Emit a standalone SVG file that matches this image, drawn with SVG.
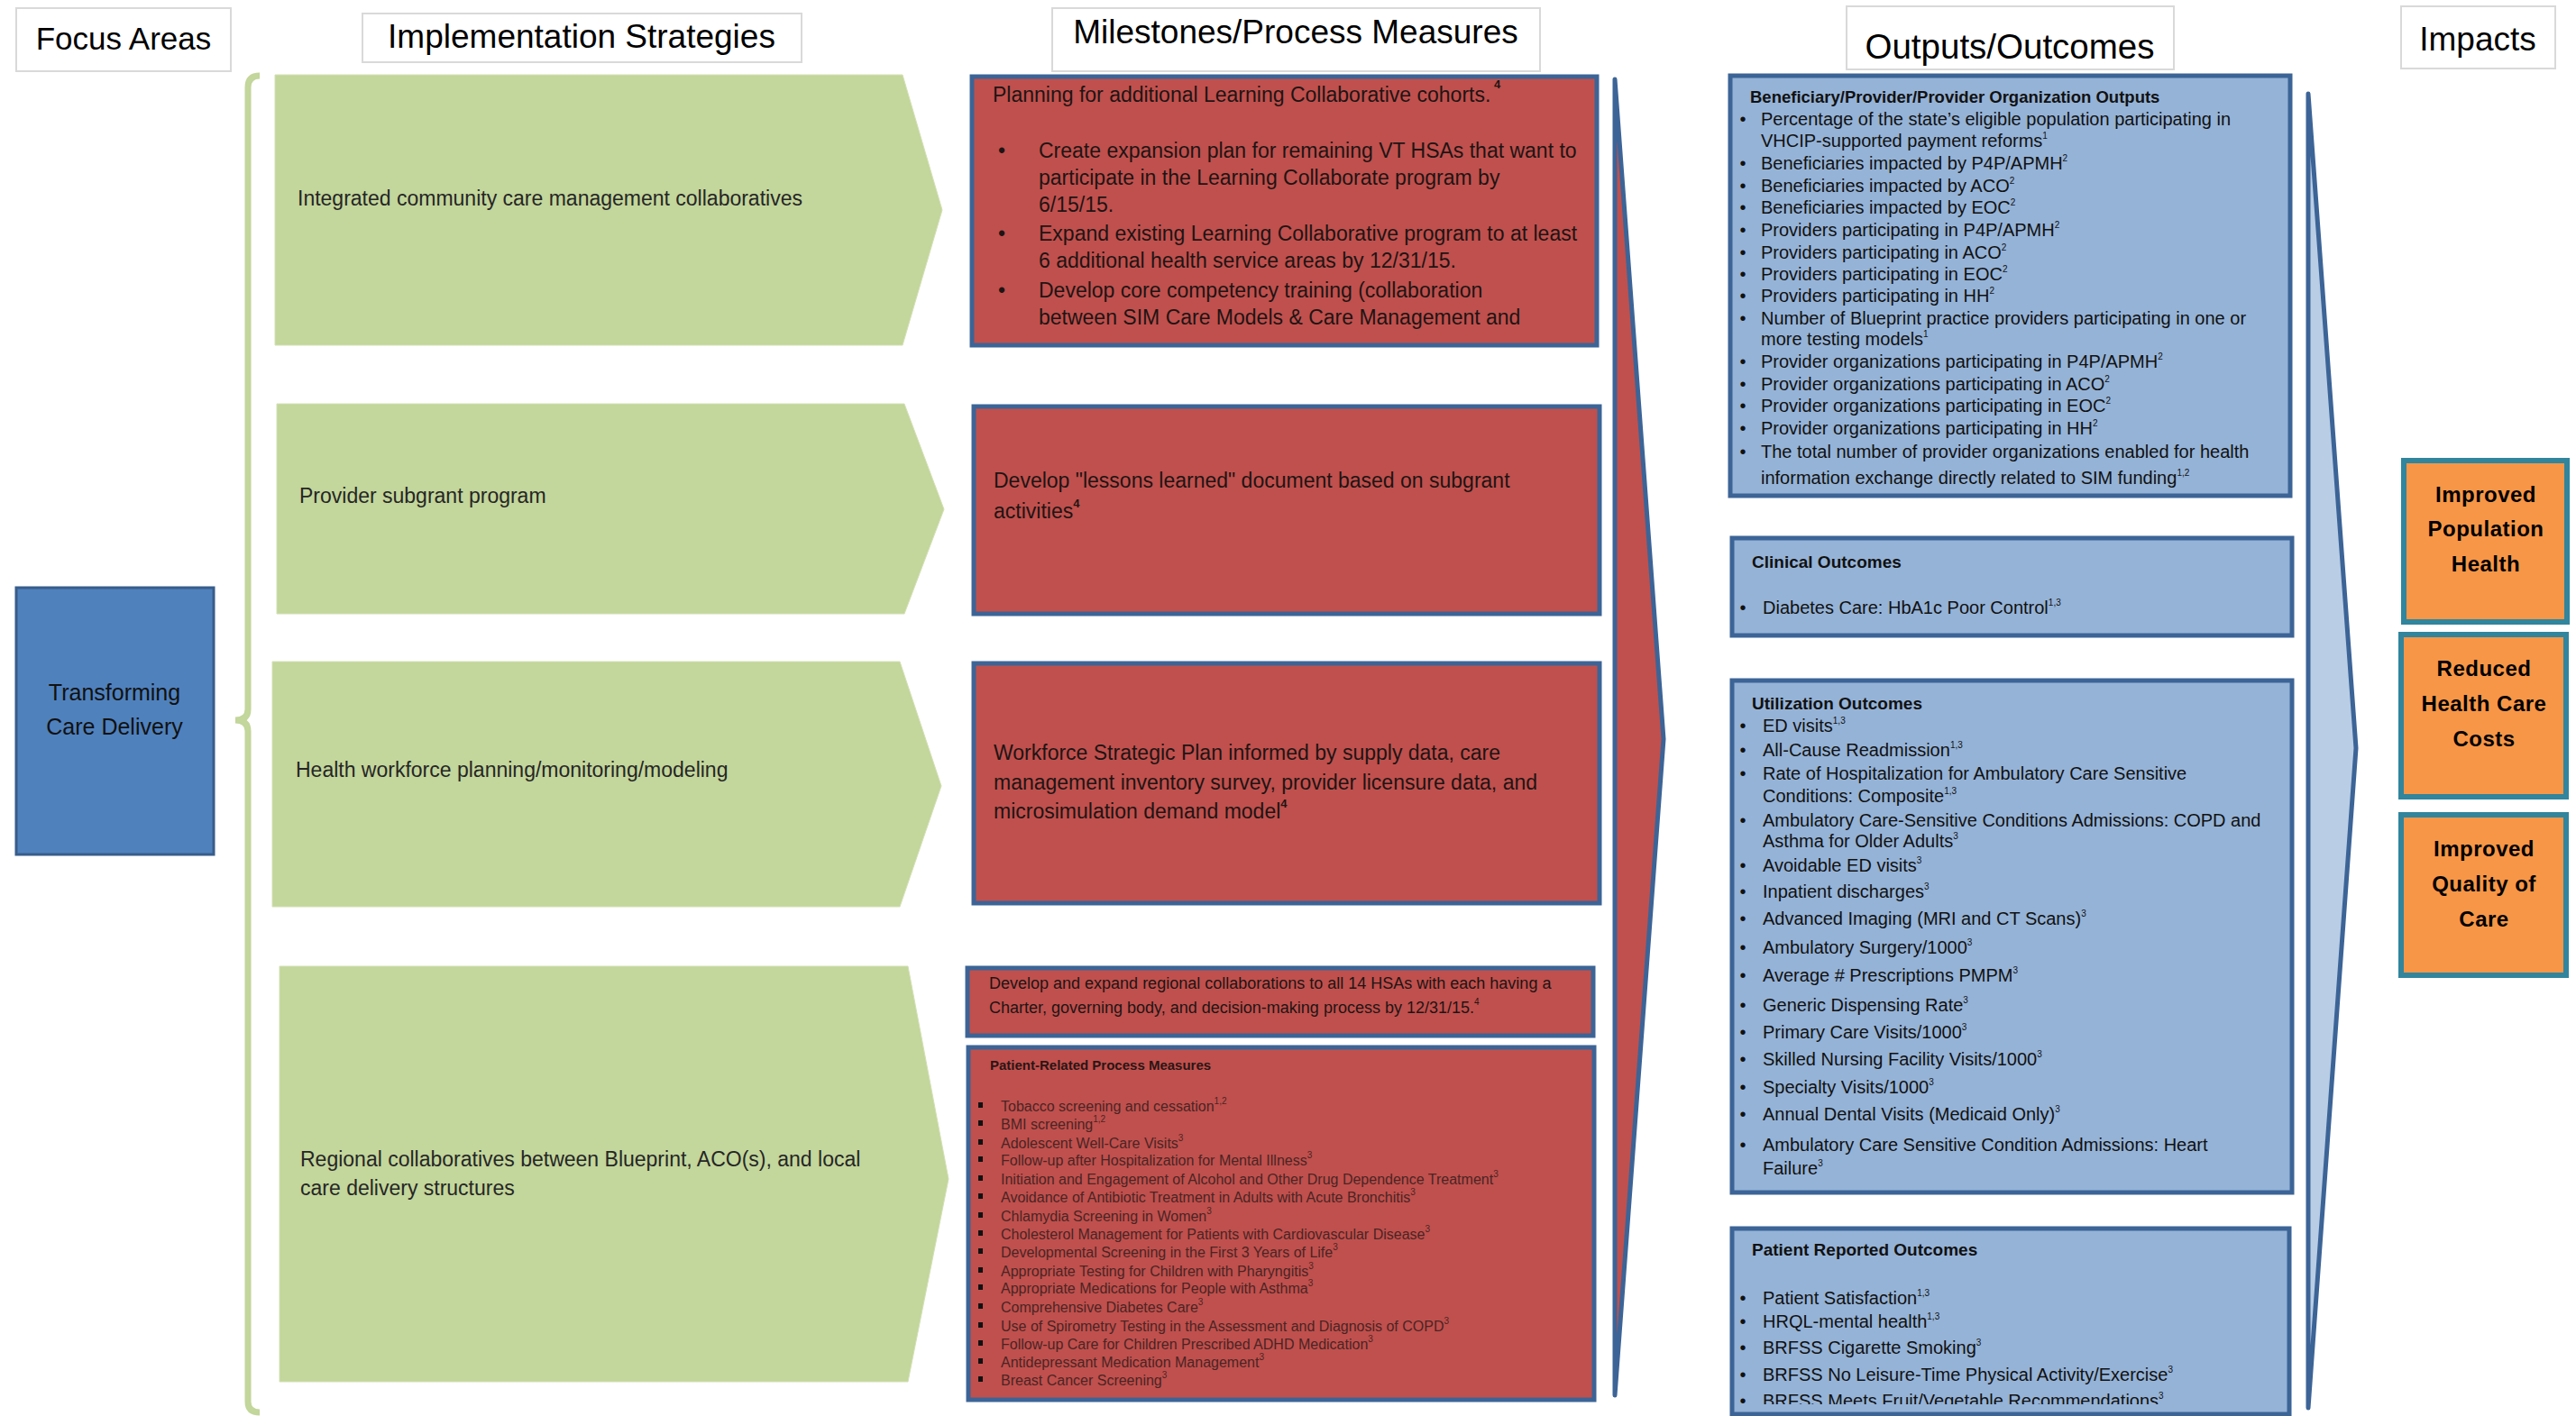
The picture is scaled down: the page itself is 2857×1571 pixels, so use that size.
<svg xmlns="http://www.w3.org/2000/svg" width="2857" height="1571" viewBox="0 0 2857 1571">
<style>
text{font-family:"Liberation Sans",Arial,sans-serif;fill:#111}
.hbox{fill:#fff;stroke:#d9d9d9;stroke-width:2}
.h{font-size:37px;fill:#000;text-anchor:middle}
.green{fill:#C3D69B;stroke:#d3e0b6;stroke-width:1}
.gt{font-size:23px;fill:#262626}
.red{fill:#C0504D;stroke:#3C6496;stroke-width:5}
.rt{font-size:23px;fill:#1e1414}
.rs{font-size:18px;fill:#1e1414}
.pt{font-size:15px;font-weight:bold;fill:#2a1515}
.pi{font-size:16px;fill:#4a2424}
.sq{fill:#111}
.blue{fill:#95B3D7;stroke:#3C6496;stroke-width:5}
.bt{font-size:19px;font-weight:bold}
.bi{font-size:20px}
.bb{font-size:20px;text-anchor:middle}
.sup{font-size:10px}
.supb{font-size:13px;font-weight:bold}
.org{fill:#F79646;stroke:#31859C;stroke-width:6}
.ot{font-size:24px;font-weight:bold;letter-spacing:0.5px;text-anchor:middle;fill:#000}
.ft{font-size:25px;text-anchor:middle;fill:#111}
</style>
<defs>
<clipPath id="clipB4"><rect x="1921" y="1363" width="618" height="195"/></clipPath>
</defs>
<rect width="2857" height="1571" fill="#fff"/>

<g id="headers">
<g id="hdr-focus"><rect class="hbox" x="18" y="9" width="238" height="70"/><text class="h" x="137" y="55" style="font-size:35px">Focus Areas</text></g>
<g id="hdr-impl"><rect class="hbox" x="402" y="15" width="487" height="54"/><text class="h" x="645" y="53">Implementation Strategies</text></g>
<g id="hdr-mile"><rect class="hbox" x="1167" y="9" width="541" height="70"/><text class="h" x="1437" y="48">Milestones/Process Measures</text></g>
<g id="hdr-out"><rect class="hbox" x="2048" y="7" width="363" height="70"/><text class="h" x="2229" y="65" style="font-size:38.5px">Outputs/Outcomes</text></g>
<g id="hdr-imp"><rect class="hbox" x="2663" y="7" width="171" height="69"/><text class="h" x="2748" y="56">Impacts</text></g>
</g>

<g id="connectors">
<path d="M 288 84 Q 275 84 275 97 L 275 787 Q 275 799 261 799 Q 275 799 275 811 L 275 1555 Q 275 1567 288 1567" fill="none" stroke="#C3D69B" stroke-width="7"/>
</g>

<g id="focus-transforming">
<rect x="18" y="652" width="219" height="296" fill="#4F81BD" stroke="#385D8A" stroke-width="3"/>
<text class="ft" x="127" y="777">Transforming</text>
<text class="ft" x="127" y="815">Care Delivery</text>
</g>

<g id="strategy-1">
<polygon class="green" points="305,83 1001,83 1045,233 1001,383 305,383"/>
<text class="gt" x="330" y="228">Integrated community care management collaboratives</text>
</g>
<g id="strategy-2">
<polygon class="green" points="307,448 1003,448 1047,565 1003,681 307,681"/>
<text class="gt" x="332" y="558">Provider subgrant program</text>
</g>
<g id="strategy-3">
<polygon class="green" points="302,734 998,734 1044,872 998,1006 302,1006"/>
<text class="gt" x="328" y="862">Health workforce planning/monitoring/modeling</text>
</g>
<g id="strategy-4">
<polygon class="green" points="310,1072 1007,1072 1052,1308 1007,1533 310,1533"/>
<text class="gt" x="333" y="1294">Regional collaboratives between Blueprint, ACO(s), and local</text>
<text class="gt" x="333" y="1326">care delivery structures</text>
</g>

<g id="milestone-1">
<rect class="red" x="1078" y="85" width="693" height="298"/>
<text class="rt" x="1101" y="113">Planning for additional Learning Collaborative cohorts.<tspan class="supb" dy="-15"> 4</tspan></text>
<text class="rt" x="1111" y="175" text-anchor="middle">•</text>
<text class="rt" x="1152" y="175">Create expansion plan for remaining VT HSAs that want to</text>
<text class="rt" x="1152" y="205">participate in the Learning Collaborate program by</text>
<text class="rt" x="1152" y="235">6/15/15.</text>
<text class="rt" x="1111" y="267" text-anchor="middle">•</text>
<text class="rt" x="1152" y="267">Expand existing Learning Collaborative program to at least</text>
<text class="rt" x="1152" y="297">6 additional health service areas by 12/31/15.</text>
<text class="rt" x="1111" y="330" text-anchor="middle">•</text>
<text class="rt" x="1152" y="330">Develop core competency training (collaboration</text>
<text class="rt" x="1152" y="360">between SIM Care Models &amp; Care Management and</text>
</g>

<g id="milestone-2">
<rect class="red" x="1080" y="451" width="694" height="230"/>
<text class="rt" x="1102" y="541">Develop "lessons learned" document based on subgrant</text>
<text class="rt" x="1102" y="575">activities<tspan class="supb" dy="-12">4</tspan></text>
</g>

<g id="milestone-3">
<rect class="red" x="1080" y="736" width="694" height="266"/>
<text class="rt" x="1102" y="843">Workforce Strategic Plan informed by supply data, care</text>
<text class="rt" x="1102" y="876">management inventory survey, provider licensure data, and</text>
<text class="rt" x="1102" y="908">microsimulation demand model<tspan class="supb" dy="-12">4</tspan></text>
</g>

<g id="milestone-4">
<rect class="red" x="1073" y="1074" width="694" height="75"/>
<text class="rs" x="1097" y="1097">Develop and expand regional collaborations to all 14 HSAs with each having a</text>
<text class="rs" x="1097" y="1124">Charter, governing body, and decision-making process by 12/31/15.<tspan class="sup" dy="-9">4</tspan></text>
</g>

<g id="milestone-5">
<rect class="red" x="1074" y="1162" width="694" height="391"/>
<text class="pt" x="1098" y="1187">Patient-Related Process Measures</text>
<g class="sq">
<rect x="1085" y="1223" width="5" height="6"/><rect x="1085" y="1243" width="5" height="6"/><rect x="1085" y="1264" width="5" height="6"/><rect x="1085" y="1283" width="5" height="6"/>
<rect x="1085" y="1304" width="5" height="6"/><rect x="1085" y="1324" width="5" height="6"/><rect x="1085" y="1345" width="5" height="6"/><rect x="1085" y="1365" width="5" height="6"/>
<rect x="1085" y="1385" width="5" height="6"/><rect x="1085" y="1406" width="5" height="6"/><rect x="1085" y="1425" width="5" height="6"/><rect x="1085" y="1446" width="5" height="6"/>
<rect x="1085" y="1467" width="5" height="6"/><rect x="1085" y="1487" width="5" height="6"/><rect x="1085" y="1507" width="5" height="6"/><rect x="1085" y="1527" width="5" height="6"/>
</g>
<text class="pi" x="1110" y="1233">Tobacco screening and cessation<tspan class="sup" dy="-8">1,2</tspan></text>
<text class="pi" x="1110" y="1253">BMI screening<tspan class="sup" dy="-8">1,2</tspan></text>
<text class="pi" x="1110" y="1274">Adolescent Well-Care Visits<tspan class="sup" dy="-8">3</tspan></text>
<text class="pi" x="1110" y="1293">Follow-up after Hospitalization for Mental Illness<tspan class="sup" dy="-8">3</tspan></text>
<text class="pi" x="1110" y="1314">Initiation and Engagement of Alcohol and Other Drug Dependence Treatment<tspan class="sup" dy="-8">3</tspan></text>
<text class="pi" x="1110" y="1334">Avoidance of Antibiotic Treatment in Adults with Acute Bronchitis<tspan class="sup" dy="-8">3</tspan></text>
<text class="pi" x="1110" y="1355">Chlamydia Screening in Women<tspan class="sup" dy="-8">3</tspan></text>
<text class="pi" x="1110" y="1375">Cholesterol Management for Patients with Cardiovascular Disease<tspan class="sup" dy="-8">3</tspan></text>
<text class="pi" x="1110" y="1395">Developmental Screening in the First 3 Years of Life<tspan class="sup" dy="-8">3</tspan></text>
<text class="pi" x="1110" y="1416">Appropriate Testing for Children with Pharyngitis<tspan class="sup" dy="-8">3</tspan></text>
<text class="pi" x="1110" y="1435">Appropriate Medications for People with Asthma<tspan class="sup" dy="-8">3</tspan></text>
<text class="pi" x="1110" y="1456">Comprehensive Diabetes Care<tspan class="sup" dy="-8">3</tspan></text>
<text class="pi" x="1110" y="1477">Use of Spirometry Testing in the Assessment and Diagnosis of COPD<tspan class="sup" dy="-8">3</tspan></text>
<text class="pi" x="1110" y="1497">Follow-up Care for Children Prescribed ADHD Medication<tspan class="sup" dy="-8">3</tspan></text>
<text class="pi" x="1110" y="1517">Antidepressant Medication Management<tspan class="sup" dy="-8">3</tspan></text>
<text class="pi" x="1110" y="1537">Breast Cancer Screening<tspan class="sup" dy="-8">3</tspan></text>
</g>

<g id="arrow-milestones">
<polygon points="1791,88 1845,820 1791,1548" fill="#C0504D" stroke="#3C6496" stroke-width="5" stroke-linejoin="round"/>
</g>

<g id="outputs">
<rect class="blue" x="1919" y="84" width="621" height="466"/>
<text class="bt" x="1941" y="114" style="font-size:18.5px">Beneficiary/Provider/Provider Organization Outputs</text>
<text class="bb" x="1933" y="139">•</text><text class="bi" x="1953" y="139">Percentage of the state’s eligible population participating in</text>
<text class="bi" x="1953" y="163">VHCIP-supported payment reforms<tspan class="sup" dy="-9">1</tspan></text>
<text class="bb" x="1933" y="188">•</text><text class="bi" x="1953" y="188">Beneficiaries impacted by P4P/APMH<tspan class="sup" dy="-9">2</tspan></text>
<text class="bb" x="1933" y="213">•</text><text class="bi" x="1953" y="213">Beneficiaries impacted by ACO<tspan class="sup" dy="-9">2</tspan></text>
<text class="bb" x="1933" y="237">•</text><text class="bi" x="1953" y="237">Beneficiaries impacted by EOC<tspan class="sup" dy="-9">2</tspan></text>
<text class="bb" x="1933" y="262">•</text><text class="bi" x="1953" y="262">Providers participating in P4P/APMH<tspan class="sup" dy="-9">2</tspan></text>
<text class="bb" x="1933" y="287">•</text><text class="bi" x="1953" y="287">Providers participating in ACO<tspan class="sup" dy="-9">2</tspan></text>
<text class="bb" x="1933" y="311">•</text><text class="bi" x="1953" y="311">Providers participating in EOC<tspan class="sup" dy="-9">2</tspan></text>
<text class="bb" x="1933" y="335">•</text><text class="bi" x="1953" y="335">Providers participating in HH<tspan class="sup" dy="-9">2</tspan></text>
<text class="bb" x="1933" y="360">•</text><text class="bi" x="1953" y="360">Number of Blueprint practice providers participating in one or</text>
<text class="bi" x="1953" y="383">more testing models<tspan class="sup" dy="-9">1</tspan></text>
<text class="bb" x="1933" y="408">•</text><text class="bi" x="1953" y="408">Provider organizations participating in P4P/APMH<tspan class="sup" dy="-9">2</tspan></text>
<text class="bb" x="1933" y="433">•</text><text class="bi" x="1953" y="433">Provider organizations participating in ACO<tspan class="sup" dy="-9">2</tspan></text>
<text class="bb" x="1933" y="457">•</text><text class="bi" x="1953" y="457">Provider organizations participating in EOC<tspan class="sup" dy="-9">2</tspan></text>
<text class="bb" x="1933" y="482">•</text><text class="bi" x="1953" y="482">Provider organizations participating in HH<tspan class="sup" dy="-9">2</tspan></text>
<text class="bb" x="1933" y="508">•</text><text class="bi" x="1953" y="508">The total number of provider organizations enabled for health</text>
<text class="bi" x="1953" y="537">information exchange directly related to SIM funding<tspan class="sup" dy="-9">1,2</tspan></text>
</g>

<g id="clinical-outcomes">
<rect class="blue" x="1921" y="597" width="621" height="108"/>
<text class="bt" x="1943" y="630">Clinical Outcomes</text>
<text class="bb" x="1933" y="681">•</text><text class="bi" x="1955" y="681">Diabetes Care: HbA1c Poor Control<tspan class="sup" dy="-9">1,3</tspan></text>
</g>

<g id="utilization-outcomes">
<rect class="blue" x="1921" y="755" width="621" height="568"/>
<text class="bt" x="1943" y="787">Utilization Outcomes</text>
<text class="bb" x="1933" y="812">•</text><text class="bi" x="1955" y="812">ED visits<tspan class="sup" dy="-9">1,3</tspan></text>
<text class="bb" x="1933" y="839">•</text><text class="bi" x="1955" y="839">All-Cause Readmission<tspan class="sup" dy="-9">1,3</tspan></text>
<text class="bb" x="1933" y="865">•</text><text class="bi" x="1955" y="865">Rate of Hospitalization for Ambulatory Care Sensitive</text>
<text class="bi" x="1955" y="890">Conditions: Composite<tspan class="sup" dy="-9">1,3</tspan></text>
<text class="bb" x="1933" y="917">•</text><text class="bi" x="1955" y="917">Ambulatory Care-Sensitive Conditions Admissions: COPD and</text>
<text class="bi" x="1955" y="940">Asthma for Older Adults<tspan class="sup" dy="-9">3</tspan></text>
<text class="bb" x="1933" y="967">•</text><text class="bi" x="1955" y="967">Avoidable ED visits<tspan class="sup" dy="-9">3</tspan></text>
<text class="bb" x="1933" y="996">•</text><text class="bi" x="1955" y="996">Inpatient discharges<tspan class="sup" dy="-9">3</tspan></text>
<text class="bb" x="1933" y="1026">•</text><text class="bi" x="1955" y="1026">Advanced Imaging (MRI and CT Scans)<tspan class="sup" dy="-9">3</tspan></text>
<text class="bb" x="1933" y="1058">•</text><text class="bi" x="1955" y="1058">Ambulatory Surgery/1000<tspan class="sup" dy="-9">3</tspan></text>
<text class="bb" x="1933" y="1089">•</text><text class="bi" x="1955" y="1089">Average # Prescriptions PMPM<tspan class="sup" dy="-9">3</tspan></text>
<text class="bb" x="1933" y="1122">•</text><text class="bi" x="1955" y="1122">Generic Dispensing Rate<tspan class="sup" dy="-9">3</tspan></text>
<text class="bb" x="1933" y="1152">•</text><text class="bi" x="1955" y="1152">Primary Care Visits/1000<tspan class="sup" dy="-9">3</tspan></text>
<text class="bb" x="1933" y="1182">•</text><text class="bi" x="1955" y="1182">Skilled Nursing Facility Visits/1000<tspan class="sup" dy="-9">3</tspan></text>
<text class="bb" x="1933" y="1213">•</text><text class="bi" x="1955" y="1213">Specialty Visits/1000<tspan class="sup" dy="-9">3</tspan></text>
<text class="bb" x="1933" y="1243">•</text><text class="bi" x="1955" y="1243">Annual Dental Visits (Medicaid Only)<tspan class="sup" dy="-9">3</tspan></text>
<text class="bb" x="1933" y="1277">•</text><text class="bi" x="1955" y="1277">Ambulatory Care Sensitive Condition Admissions: Heart</text>
<text class="bi" x="1955" y="1303">Failure<tspan class="sup" dy="-9">3</tspan></text>
</g>

<g id="patient-reported-outcomes">
<rect class="blue" x="1921" y="1363" width="618" height="206"/>
<text class="bt" x="1943" y="1393">Patient Reported Outcomes</text>
<text class="bb" x="1933" y="1447">•</text><text class="bi" x="1955" y="1447">Patient Satisfaction<tspan class="sup" dy="-9">1,3</tspan></text>
<text class="bb" x="1933" y="1473">•</text><text class="bi" x="1955" y="1473">HRQL-mental health<tspan class="sup" dy="-9">1,3</tspan></text>
<text class="bb" x="1933" y="1502">•</text><text class="bi" x="1955" y="1502">BRFSS Cigarette Smoking<tspan class="sup" dy="-9">3</tspan></text>
<text class="bb" x="1933" y="1532">•</text><text class="bi" x="1955" y="1532">BRFSS No Leisure-Time Physical Activity/Exercise<tspan class="sup" dy="-9">3</tspan></text>
<g clip-path="url(#clipB4)">
<text class="bb" x="1933" y="1561">•</text><text class="bi" x="1955" y="1561">BRFSS Meets Fruit/Vegetable Recommendations<tspan class="sup" dy="-9">3</tspan></text>
</g>
</g>

<g id="arrow-outcomes">
<polygon points="2560,104 2613,830 2560,1562" fill="#B9CDE5" stroke="#3C6496" stroke-width="5" stroke-linejoin="round"/>
</g>

<g id="impact-population">
<rect class="org" x="2666" y="511" width="181" height="179"/>
<text class="ot" x="2757" y="557">Improved</text>
<text class="ot" x="2757" y="595">Population</text>
<text class="ot" x="2757" y="634">Health</text>
</g>
<g id="impact-costs">
<rect class="org" x="2663" y="704" width="183" height="180"/>
<text class="ot" x="2755" y="750">Reduced</text>
<text class="ot" x="2755" y="789">Health Care</text>
<text class="ot" x="2755" y="828">Costs</text>
</g>
<g id="impact-quality">
<rect class="org" x="2663" y="904" width="183" height="178"/>
<text class="ot" x="2755" y="950">Improved</text>
<text class="ot" x="2755" y="989">Quality of</text>
<text class="ot" x="2755" y="1028">Care</text>
</g>
</svg>
